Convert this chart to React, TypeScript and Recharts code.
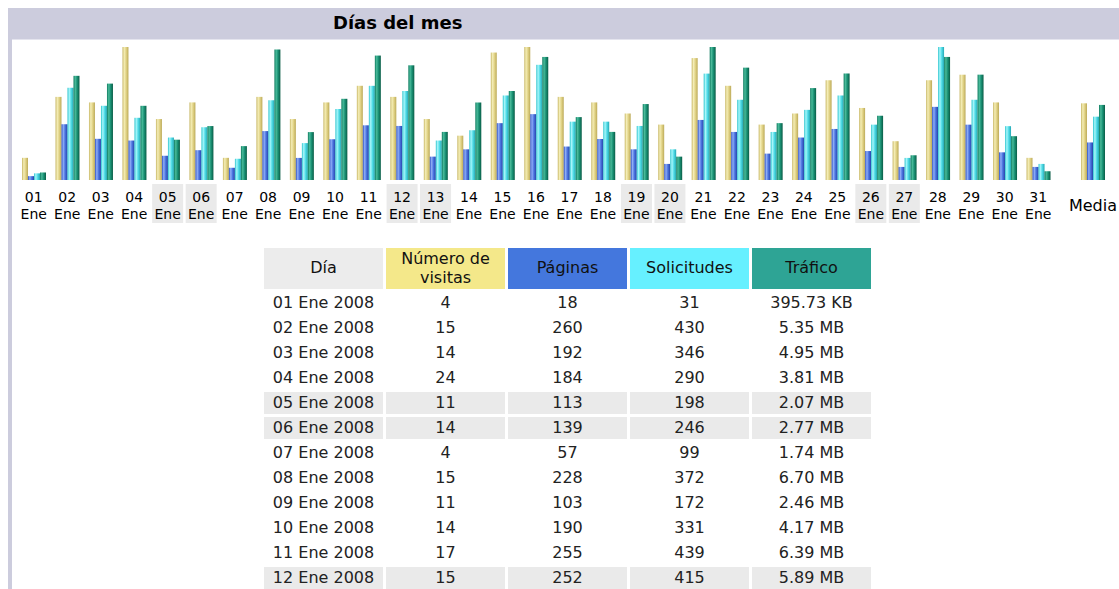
import React from 'react';
import { BarChart, Bar, XAxis, YAxis } from 'recharts';

const days = [
  '01', '02', '03', '04', '05', '06', '07', '08', '09', '10', '11', '12', '13', '14', '15', '16',
  '17', '18', '19', '20', '21', '22', '23', '24', '25', '26', '27', '28', '29', '30', '31',
];
const visits = [4, 15, 14, 24, 11, 14, 4, 15, 11, 14, 17, 15, 11, 8, 23, 24, 15, 14, 12, 10, 22, 17, 10, 12, 18, 13, 7, 18, 19, 14, 4];
const pages = [18, 260, 192, 184, 113, 139, 57, 228, 103, 190, 255, 252, 109, 143, 265, 307, 156, 191, 143, 75, 280, 224, 123, 198, 238, 135, 61, 341, 258, 129, 61];
const hits = [31, 430, 346, 290, 198, 246, 99, 372, 172, 331, 439, 415, 184, 232, 394, 537, 272, 272, 252, 143, 496, 374, 224, 327, 394, 258, 103, 620, 374, 251, 75];
const trafficMB = [0.386455, 5.35, 4.95, 3.81, 2.07, 2.77, 1.74, 6.7, 2.46, 4.17, 6.39, 5.89, 2.47, 3.98, 4.57, 6.32, 3.23, 2.47, 3.9, 1.2, 6.83, 5.77, 2.92, 4.72, 5.47, 3.3, 1.27, 6.32, 5.41, 2.25, 0.45];

const monthLabel = 'Ene';
const year = 2008;
const headers = ['Día', 'Número de visitas', 'Páginas', 'Solicitudes', 'Tráfico'];
// filas de la tabla que caben en la captura
const visibleRows = 12;

const FONT = '"DejaVu Sans", Verdana, sans-serif';
const headerBg = ['#ECECEC', '#F4E88A', '#4477DD', '#66F0FF', '#2EA495'];

const isWeekend = (d: string) => {
  const wd = new Date(year, 0, Number(d)).getDay();
  return wd === 0 || wd === 6;
};

const fmtTraffic = (mb: number) =>
  mb < 1 ? `${(mb * 1024).toFixed(2)} KB` : `${mb.toFixed(2)} MB`;

const mean = (a: number[]) => a.reduce((s, v) => s + v, 0) / a.length;

const dayData = days.map((d, i) => ({
  day: d,
  visits: visits[i],
  pages: pages[i],
  hits: hits[i],
  traffic: trafficMB[i],
}));

const mediaData = [
  { day: 'Media', visits: mean(visits), pages: mean(pages), hits: mean(hits), traffic: mean(trafficMB) },
];

const maxV = Math.max(...visits);
const maxH = Math.max(...hits, ...pages);
const maxK = Math.max(...trafficMB);

// gradientes tipo "cilindro" como las imágenes de barras de AWStats
function BarGradients({ prefix }: { prefix: string }) {
  const grads: [string, string[]][] = [
    ['v', ['#C8B766', '#F4EDB6', '#E2D488', '#BCAA58']],
    ['p', ['#2E50C4', '#8FAEF6', '#4C74E0', '#2544A8']],
    ['h', ['#2CC4CE', '#A8F6FA', '#52DDE8', '#24A8B4']],
    ['k', ['#0E7A5F', '#4ABA9A', '#1A9275', '#0A5C46']],
  ];
  return (
    <defs>
      {grads.map(([id, c]) => (
        <linearGradient key={id} id={`${prefix}-${id}`} x1="0" y1="0" x2="1" y2="0">
          <stop offset="0%" stopColor={c[0]} />
          <stop offset="30%" stopColor={c[1]} />
          <stop offset="60%" stopColor={c[2]} />
          <stop offset="100%" stopColor={c[3]} />
        </linearGradient>
      ))}
    </defs>
  );
}

function DayTick(props: any) {
  const { x, y, payload } = props;
  const d = payload.value as string;
  return (
    <g>
      {isWeekend(d) && <rect x={x - 15.5} y={y + 4} width={31} height={39} fill="#EAEAEA" />}
      <text x={x} y={y + 17} textAnchor="middle" dominantBaseline="central" fontSize={14} fontFamily={FONT} fill="#000">
        {d}
      </text>
      <text x={x} y={y + 34} textAnchor="middle" dominantBaseline="central" fontSize={14} fontFamily={FONT} fill="#000">
        {monthLabel}
      </text>
    </g>
  );
}

function MediaTick(props: any) {
  const { x, y, payload } = props;
  return (
    <text x={x} y={y + 25} textAnchor="middle" dominantBaseline="central" fontSize={16} fontFamily={FONT} fill="#000">
      {payload.value}
    </text>
  );
}

function renderBars(prefix: string) {
  return [
    <Bar key="v" dataKey="visits" yAxisId="v" fill={`url(#${prefix}-v)`} barSize={6} isAnimationActive={false} />,
    <Bar key="p" dataKey="pages" yAxisId="h" fill={`url(#${prefix}-p)`} barSize={6} isAnimationActive={false} />,
    <Bar key="h" dataKey="hits" yAxisId="h" fill={`url(#${prefix}-h)`} barSize={6} isAnimationActive={false} />,
    <Bar key="k" dataKey="traffic" yAxisId="k" fill={`url(#${prefix}-k)`} barSize={6} isAnimationActive={false} />,
  ];
}

function yAxes() {
  return [
    <YAxis key="v" yAxisId="v" hide domain={[0, maxV]} allowDataOverflow />,
    <YAxis key="h" yAxisId="h" hide domain={[0, maxH]} allowDataOverflow />,
    <YAxis key="k" yAxisId="k" hide domain={[0, maxK]} allowDataOverflow />,
  ];
}

export default function App() {
  const margin = { top: 0, right: 0, bottom: 0, left: 0 };
  return (
    <div
      style={{
        position: 'absolute',
        left: 0,
        top: 0,
        width: 1119,
        height: 589,
        overflow: 'hidden',
        background: '#fff',
        fontFamily: FONT,
      }}
    >
      {/* marco y barra de título */}
      <div style={{ position: 'absolute', left: 8, top: 8, width: 1120, height: 600, background: '#CCCCDD' }} />
      <div style={{ position: 'absolute', left: 12, top: 39, width: 1120, height: 600, background: '#fff', borderTop: '1px solid #E4E4EE' }} />
      <div
        style={{
          position: 'absolute',
          left: 333,
          top: 12,
          fontSize: 18,
          fontWeight: 'bold',
          lineHeight: '22px',
          color: '#000',
        }}
      >
        Días del mes
      </div>

      <div style={{ position: 'absolute', left: 17, top: 47 }}>
        <BarChart width={1038} height={183} data={dayData} margin={margin} barGap={0}>
          <BarGradients prefix="d" />
          <XAxis
            dataKey="day"
            interval={0}
            height={50}
            axisLine={false}
            tickLine={false}
            tickSize={0}
            tickMargin={0}
            tick={<DayTick />}
          />
          {yAxes()}
          {renderBars('d')}
        </BarChart>
      </div>

      <div style={{ position: 'absolute', left: 1061, top: 47 }}>
        <BarChart width={64} height={183} data={mediaData} margin={margin} barGap={0}>
          <BarGradients prefix="m" />
          <XAxis
            dataKey="day"
            interval={0}
            height={50}
            axisLine={false}
            tickLine={false}
            tickSize={0}
            tickMargin={0}
            tick={<MediaTick />}
          />
          {yAxes()}
          {renderBars('m')}
        </BarChart>
      </div>

      <table
        style={{
          position: 'absolute',
          left: 261,
          top: 245,
          borderCollapse: 'separate',
          borderSpacing: 3,
          fontSize: 16,
          color: '#222',
          textAlign: 'center',
        }}
      >
        <thead>
          <tr>
            {headers.map((h, i) => (
              <th
                key={h}
                style={{
                  width: 119,
                  height: 41,
                  padding: 0,
                  background: headerBg[i],
                  fontWeight: 'normal',
                  lineHeight: '18.5px',
                  color: '#111',
                }}
              >
                {h === 'Número de visitas' ? (
                  <>
                    Número de
                    <br />
                    visitas
                  </>
                ) : (
                  h
                )}
              </th>
            ))}
          </tr>
        </thead>
        <tbody>
          {dayData.slice(0, visibleRows).map((r) => {
            const bg = isWeekend(r.day) ? '#EAEAEA' : '#fff';
            const cells = [
              `${r.day} ${monthLabel} ${year}`,
              String(r.visits),
              String(r.pages),
              String(r.hits),
              fmtTraffic(r.traffic),
            ];
            return (
              <tr key={r.day}>
                {cells.map((c, i) => (
                  <td key={i} style={{ width: 119, height: 22, padding: 0, background: bg, lineHeight: '20px' }}>
                    {c}
                  </td>
                ))}
              </tr>
            );
          })}
        </tbody>
      </table>
    </div>
  );
}
